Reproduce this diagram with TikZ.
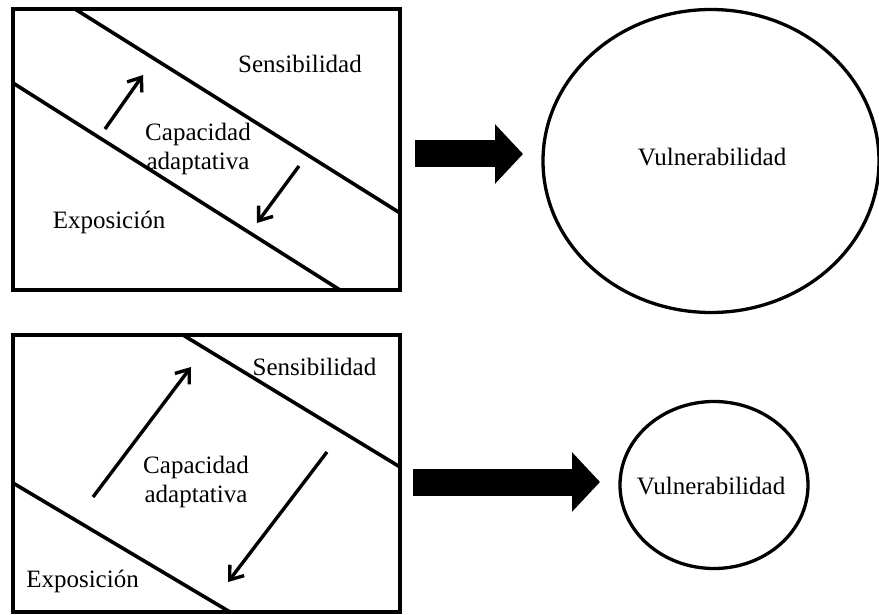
\documentclass[tikz,border=0pt]{standalone}
\usepackage{fontspec}
\setmainfont{Liberation Serif}
\usetikzlibrary{arrows.meta,shapes.geometric}

\begin{document}
\begin{tikzpicture}[x=1pt,y=-1pt,
    panel/.style={draw,line width=4pt,inner sep=0pt,minimum width=387pt},
    zone/.style={line width=3.6pt},
    push/.style={line width=3.4pt,-{Straight Barb[length=12pt,width=18pt]}},
    fat/.style={line width=27pt,-{Triangle[length=28pt,width=58pt]}},
    vuln/.style={draw,ellipse,line width=3.3pt,inner sep=0pt},
    lbl/.style={font=\fontsize{25}{29}\selectfont,anchor=base}]
    \useasboundingbox (0,0) rectangle (879,615);
    % top: large vulnerability
    \node[panel, minimum height=281pt] (box1) at (206.5,149.5) {};
    \draw[zone] (75,9) -- (400,213);
    \draw[zone] (13,83) -- (340,290);
    \draw[push] (105,129) -- (143,75);
    \draw[push] (299,166) -- (257,223);
    \node[lbl] (sens1) at (300,73) {Sensibilidad};
    \node[lbl, anchor=center, align=center] (cap1) at (198,149) {Capacidad\\adaptativa};
    \node[lbl] (expo1) at (109,229) {Exposición};
    \node[vuln, minimum width=336pt, minimum height=303pt] (vul1) at (711,161) {};
    \node[lbl] (txt1) at (712,166) {Vulnerabilidad};
    \coordinate (f1) at (415,154);
    \coordinate (t1) at (523,154);
    \draw[fat] (f1) -- (t1);
    % bottom: small vulnerability
    \node[panel, minimum height=277pt] (box2) at (206.5,473.5) {};
    \draw[zone] (183,335) -- (400,467);
    \draw[zone] (13,483) -- (230,612);
    \draw[push] (93,497) -- (191,367);
    \draw[push] (327,452) -- (228,582);
    \node[lbl] (sens2) at (314.5,375) {Sensibilidad};
    \node[lbl, anchor=center, align=center] (cap2) at (196,482) {Capacidad\\adaptativa};
    \node[lbl] (expo2) at (82.5,587) {Exposición};
    \node[vuln, minimum width=188pt, minimum height=167pt] (vul2) at (714,485) {};
    \node[lbl] (txt2) at (711,494) {Vulnerabilidad};
    \coordinate (f2) at (413,482);
    \coordinate (t2) at (600,482);
    \draw[fat] (f2) -- (t2);
\end{tikzpicture}
\end{document}
